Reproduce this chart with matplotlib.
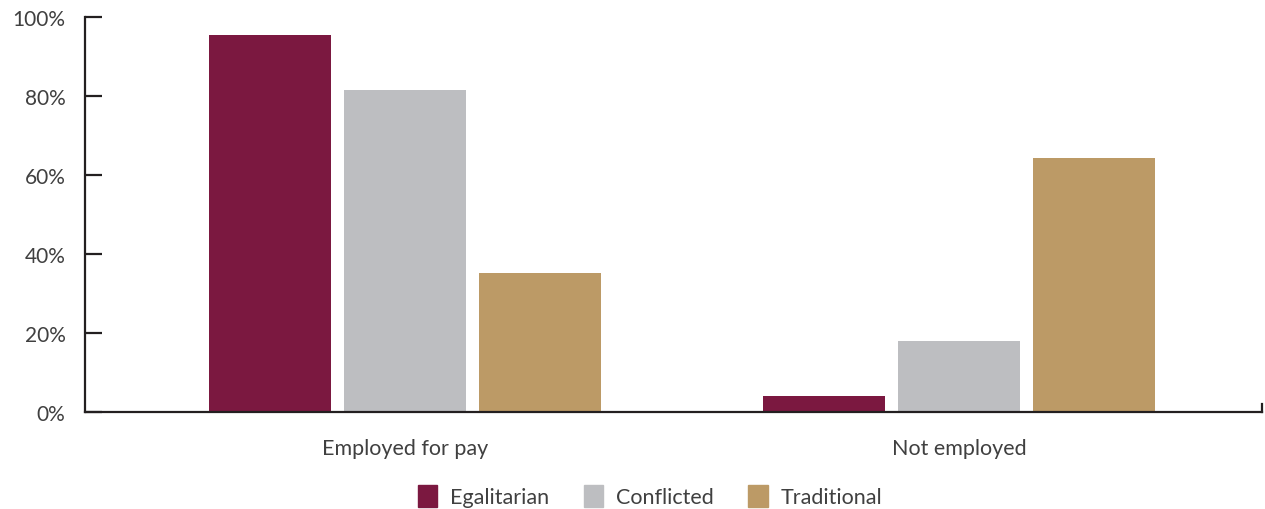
import matplotlib.pyplot as plt
import matplotlib.patches as mpatches
import numpy as np

# Data
categories = ['Employed for pay', 'Not employed']
series_names = ['Egalitarian', 'Conflicted', 'Traditional']
egalitarian = [95.4, 4.1]
conflicted = [81.5, 18.0]
traditional = [35.2, 64.3]
y_ticks = [0, 20, 40, 60, 80, 100]

colors = ['#7B1840', '#BDBEC1', '#BC9A66']
axis_col = '#231F20'
text_col = '#404040'

plt.rcParams['font.family'] = ['Lato', 'DejaVu Sans']

fig = plt.figure(figsize=(12.65, 5.1), dpi=100)
ax = fig.add_axes([85 / 1265, 97 / 510, 1177 / 1265, 395 / 510])

x = np.arange(len(categories))
width = 0.22
step = 0.2437
for i, (vals, name) in enumerate(zip([egalitarian, conflicted, traditional],
                                     series_names)):
    ax.bar(x + (i - 1) * step, vals, width=width, color=colors[i],
           label=name, zorder=1)

ax.set_xlim(-0.578, 1.547)
ax.set_ylim(0, 100)

# Axes styling: only left and bottom lines
for side in ['top', 'right']:
    ax.spines[side].set_visible(False)
for side in ['left', 'bottom']:
    ax.spines[side].set_color(axis_col)
    ax.spines[side].set_linewidth(1.6)
    ax.spines[side].set_zorder(3)

ax.set_yticks(y_ticks)
ax.set_yticklabels([f'{v}%' for v in y_ticks])
ax.tick_params(axis='y', direction='in', length=12, width=1.6,
               color=axis_col, pad=14, labelsize=15, labelcolor=text_col)

ax.set_xticks(x)
ax.set_xticklabels(categories)
ax.tick_params(axis='x', length=0, pad=19, labelsize=15.5,
               labelcolor=text_col)

# small up-tick at the right end of the baseline
ax.plot([1, 1], [0, 0.02], transform=ax.transAxes, color=axis_col,
        linewidth=1.6, clip_on=False, zorder=3)

handles = [mpatches.Patch(color=c, label=n) for c, n in zip(colors, series_names)]
fig.legend(handles=handles, loc='center', ncol=3,
           bbox_to_anchor=(650 / 1265, 1 - 497 / 510), frameon=False,
           fontsize=15.5, handlelength=0.9, handleheight=1.2,
           handletextpad=0.6, columnspacing=1.6, labelcolor=text_col)

plt.savefig('out.png', dpi=100)
